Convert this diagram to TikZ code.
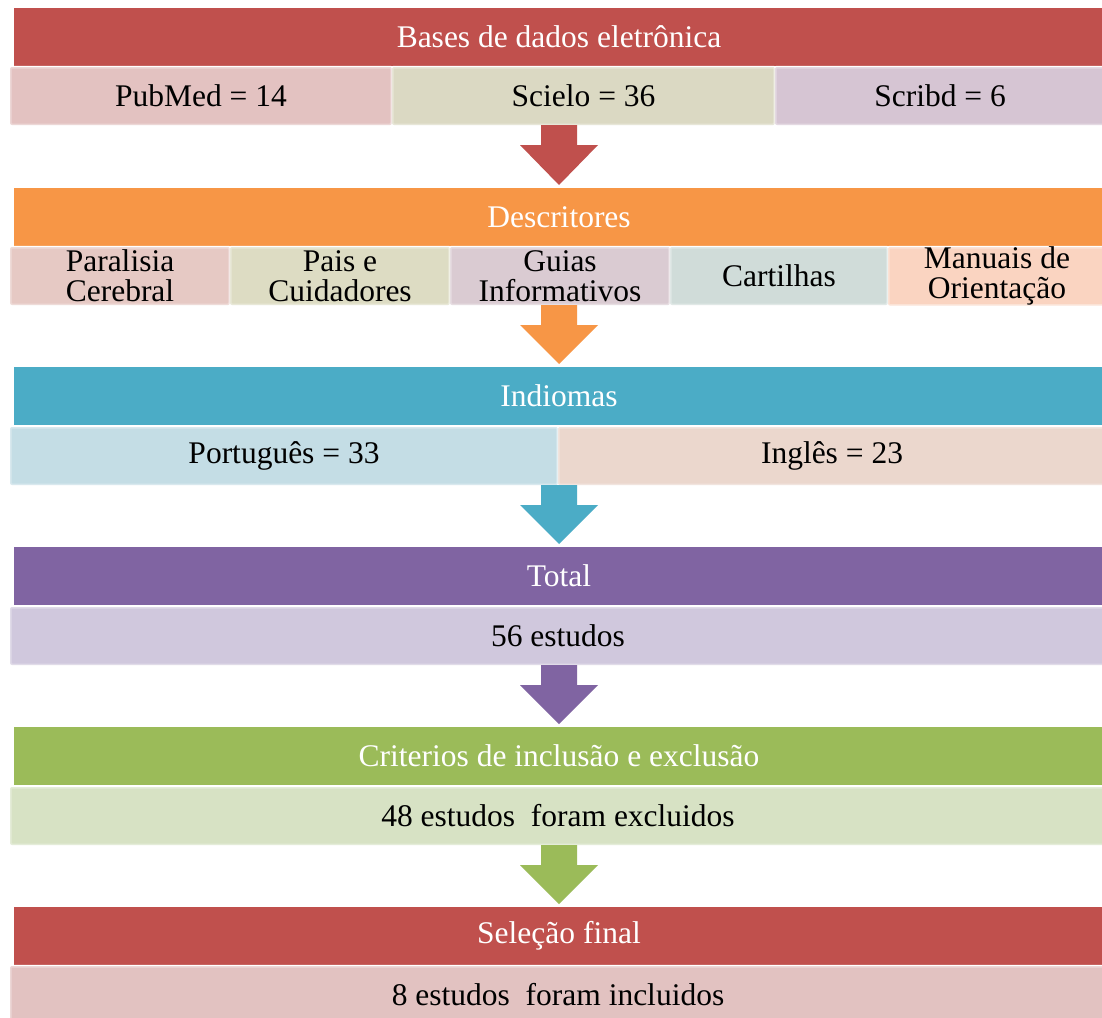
\documentclass[tikz,border=0pt]{standalone}
\usepackage{fontspec}
\setmainfont{Liberation Serif}
\usetikzlibrary{calc}
\definecolor{cRed}{HTML}{C0504D}
\definecolor{cOrange}{HTML}{F79646}
\definecolor{cTeal}{HTML}{4BACC6}
\definecolor{cPurple}{HTML}{8064A2}
\definecolor{cGreen}{HTML}{9BBB59}
\definecolor{sPub}{HTML}{E3C2C1}
\definecolor{sSci}{HTML}{DBD9C3}
\definecolor{sScr}{HTML}{D6C5D3}
\definecolor{sPar}{HTML}{E6C9C4}
\definecolor{sPai}{HTML}{DDDCC3}
\definecolor{sGui}{HTML}{DACBD2}
\definecolor{sCar}{HTML}{D0DCD9}
\definecolor{sMan}{HTML}{FAD4C1}
\definecolor{sPor}{HTML}{C4DDE5}
\definecolor{sIng}{HTML}{EBD7CD}
\definecolor{sTot}{HTML}{D0C8DD}
\definecolor{sCri}{HTML}{D7E2C4}
\definecolor{sFin}{HTML}{E2C2C1}
\newcommand{\flowdown}[3]{%
  \fill[#1] let \p1=(#2.south), \p2=(#3.north) in
   (\x2-18pt,\y1) -- (\x2-18pt,\y1-20pt) -- (\x2-39pt,\y1-20pt) -- (\x2,\y2+3pt)
   -- (\x2+39pt,\y1-20pt) -- (\x2+18pt,\y1-20pt) -- (\x2+18pt,\y1) -- cycle;}
\begin{document}
\begin{tikzpicture}[x=1pt,y=-1pt,
  txt/.style={font=\fontsize{31.5}{30}\selectfont},
  band/.style={txt, text=white, anchor=north west, minimum width=1090pt, minimum height=58pt, inner sep=0pt, outer sep=0pt},
  subbox/.style={txt, text=black, anchor=north west, minimum height=58pt, inner sep=0pt, outer sep=0pt, align=center,
     draw=white, draw opacity=0.35, line width=3pt, rounded corners=2pt}
]
\useasboundingbox (0,0) rectangle (1102,1017);
\fill[white] (0,0) rectangle (1102,1017);

% Row 1
\node[band, fill=cRed] (b1) at (14,8) {Bases de dados eletrônica};
\node[subbox, fill=sPub, minimum width=382pt] (s1a) at (10,67) {PubMed = 14};
\node[subbox, fill=sSci, minimum width=383pt] (s1b) at (392,67) {Scielo = 36};
\node[subbox, fill=sScr, minimum width=330pt] (s1c) at (775,67) {Scribd = 6};

% Row 2
\node[band, fill=cOrange] (b2) at (14,188) {Descritores};
\node[subbox, fill=sPar, minimum width=220pt] (s2a) at (10,247) {Paralisia\\Cerebral};
\node[subbox, fill=sPai, minimum width=220pt] (s2b) at (230,247) {Pais e\\Cuidadores};
\node[subbox, fill=sGui, minimum width=220pt] (s2c) at (450,247) {Guias\\Informativos};
\node[subbox, fill=sCar, minimum width=218pt] (s2d) at (670,247) {Cartilhas};
\node[subbox, fill=sMan, minimum width=218pt] (s2e) at (888,247) {Manuais de\\Orientação};

% Row 3
\node[band, fill=cTeal] (b3) at (14,367) {Indiomas};
\node[subbox, fill=sPor, minimum width=548pt] (s3a) at (10,427) {Português = 33};
\node[subbox, fill=sIng, minimum width=548pt] (s3b) at (558,427) {Inglês = 23};

% Row 4
\node[band, fill=cPurple] (b4) at (14,547) {Total};
\node[subbox, fill=sTot, minimum width=1096pt] (s4) at (10,607) {56 estudos};

% Row 5
\node[band, fill=cGreen] (b5) at (14,727) {Criterios de inclusão e exclusão};
\node[subbox, fill=sCri, minimum width=1096pt] (s5) at (10,787) {48 estudos\ \ foram excluidos};

% Row 6
\node[band, fill=cRed] (b6) at (14,907) {Seleção final};
\node[subbox, fill=sFin, minimum width=1096pt] (s6) at (10,966) {8 estudos\ \ foram incluidos};

% Arrows
\flowdown{cRed}{s1a}{b2}
\flowdown{cOrange}{s2a}{b3}
\flowdown{cTeal}{s3a}{b4}
\flowdown{cPurple}{s4}{b5}
\flowdown{cGreen}{s5}{b6}
\end{tikzpicture}
\end{document}
